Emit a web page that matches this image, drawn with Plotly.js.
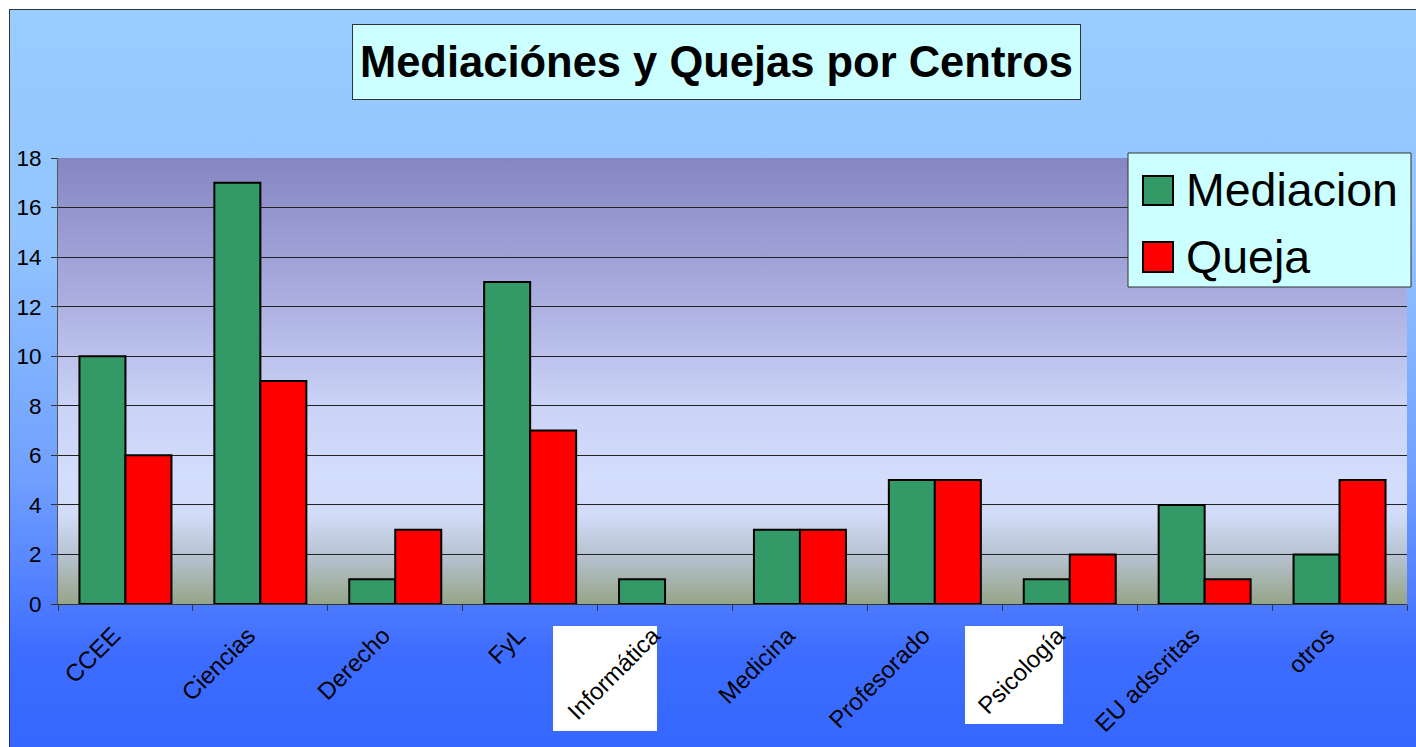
<!DOCTYPE html>
<html>
<head>
<meta charset="utf-8">
<script src="https://cdn.plot.ly/plotly-3.0.1.min.js"></script>
<style>
  html, body { margin: 0; padding: 0; background: #ffffff; width: 1416px; height: 747px; overflow: hidden; }
  #bg { position: absolute; left: 9px; top: 9px; width: 1420px; height: 760px;
        border-left: 1px solid #333; border-top: 1px solid #333;
        background: linear-gradient(to bottom, #99ccff 0%, #93c4ff 30%, #6f9fff 62%, #3d6cff 85%, #3366ff 100%); }
  #plotbg { position: absolute; left: 58px; top: 158px; width: 1349px; height: 446px;
        background: linear-gradient(to bottom, #8686c2 0%, #a8acde 30%, #cad2f6 55%, #d3ddfc 72%, #d2dcf8 80%, #b4c0cc 90%, #95a587 100%); }
  #chart { position: absolute; left: 0; top: 0; width: 1416px; height: 747px; }
</style>
</head>
<body>
<div id="bg"></div>
<div id="plotbg"></div>
<div id="chart"></div>
<script>
// ---- data ----
const categories = ["CCEE", "Ciencias", "Derecho", "FyL", "Informática", "Medicina", "Profesorado", "Psicología", "EU adscritas", "otros"];
const mediacion = [10, 17, 1, 13, 1, 3, 5, 1, 4, 2];
const queja = [6, 9, 3, 7, 0, 3, 5, 2, 1, 5];
const seriesNames = ["Mediacion", "Queja"];
const titleText = "Mediaciónes y Quejas por Centros";
const yTicks = [0, 2, 4, 6, 8, 10, 12, 14, 16, 18];

// ---- layout helpers (pixel -> paper) ----
const W = 1416, H = 747, L = 58, R = 9, T = 158, B = 143;
const PW = W - L - R, PH = H - T - B;
const px = v => (v - L) / PW;
const py = v => (H - B - v) / PH;

const FONT = "Liberation Sans, Arial, Helvetica, sans-serif";
const colors = ["#339966", "#ff0000"];
const outline = vals => vals.map(v => (v === 0 ? 0 : 2));

const traces = [
  { type: "bar", name: seriesNames[0], x: categories, y: mediacion,
    marker: { color: colors[0], line: { color: "#000", width: outline(mediacion) } }, showlegend: false },
  { type: "bar", name: seriesNames[1], x: categories, y: queja,
    marker: { color: colors[1], line: { color: "#000", width: outline(queja) } }, showlegend: false }
];

const shapes = [
  // white boxes behind two category labels (as in the reference)
  { type: "rect", xref: "paper", yref: "paper", layer: "below",
    x0: px(553), x1: px(657), y0: py(731), y1: py(626), fillcolor: "#ffffff", line: { width: 0 } },
  { type: "rect", xref: "paper", yref: "paper", layer: "below",
    x0: px(965), x1: px(1063), y0: py(724), y1: py(626), fillcolor: "#ffffff", line: { width: 0 } },
  // legend box
  { type: "rect", xref: "paper", yref: "paper", layer: "above",
    x0: px(1128), x1: px(1411), y0: py(287), y1: py(153), fillcolor: "#ccffff", line: { color: "#333", width: 1 } },
  { type: "rect", xref: "paper", yref: "paper", layer: "above",
    x0: px(1143), x1: px(1173), y0: py(205), y1: py(176), fillcolor: colors[0], line: { color: "#000", width: 2 } },
  { type: "rect", xref: "paper", yref: "paper", layer: "above",
    x0: px(1143), x1: px(1173), y0: py(272), y1: py(242), fillcolor: colors[1], line: { color: "#000", width: 2 } }
];

const annotations = [
  { xref: "paper", yref: "paper", x: px(716.5), y: py(62), xanchor: "center", yanchor: "middle",
    text: "<b>" + titleText + "</b>", showarrow: false,
    font: { family: FONT, size: 43.5, color: "#000" },
    bgcolor: "#ccffff", bordercolor: "#333", borderwidth: 1, borderpad: 0,
    width: 727, height: 74, align: "center", valign: "middle" },
  { xref: "paper", yref: "paper", x: px(1184), y: py(190), xanchor: "left", yanchor: "middle",
    text: seriesNames[0], showarrow: false, font: { family: FONT, size: 46.5, color: "#000" } },
  { xref: "paper", yref: "paper", x: px(1184), y: py(257), xanchor: "left", yanchor: "middle",
    text: seriesNames[1], showarrow: false, font: { family: FONT, size: 46.5, color: "#000" } }
];

const layout = {
  width: W, height: H,
  margin: { l: L, r: R, t: T, b: B, pad: 0 },
  paper_bgcolor: "rgba(0,0,0,0)",
  plot_bgcolor: "rgba(0,0,0,0)",
  font: { family: FONT, color: "#000" },
  barmode: "group", bargap: 0.318, bargroupgap: 0,
  showlegend: false,
  xaxis: {
    type: "category", tickangle: -45, tickfont: { family: FONT, size: 24, color: "#000" },
    ticks: "outside", tickson: "boundaries", ticklen: 6, tickcolor: "#333",
    ticklabelshift: -12, ticklabelstandoff: 7,
    showline: true, linecolor: "#333", linewidth: 1, showgrid: false, zeroline: false,
    fixedrange: true
  },
  yaxis: {
    range: [0, 18], tickvals: yTicks, ticktext: yTicks.map(String),
    tickfont: { family: FONT, size: 22.5, color: "#000" },
    ticks: "outside", ticklen: 6, tickcolor: "#333", ticklabelstandoff: 5,
    showline: true, linecolor: "#555", linewidth: 1,
    showgrid: true, gridcolor: "#222", gridwidth: 1, zeroline: false,
    fixedrange: true
  },
  shapes: shapes,
  annotations: annotations
};

Plotly.newPlot("chart", traces, layout, { displayModeBar: false, staticPlot: true });
</script>
</body>
</html>
